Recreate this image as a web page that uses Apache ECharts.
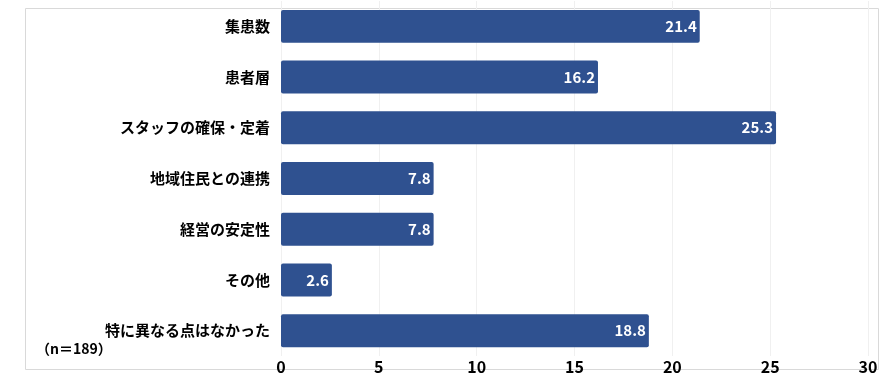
<!DOCTYPE html>
<html>
<head>
<meta charset="utf-8">
<script src="https://cdn.jsdelivr.net/npm/echarts@6/dist/echarts.min.js"></script>
<style>
  html, body { margin: 0; padding: 0; background: #fff; }
  #chart { width: 896px; height: 377px; }
</style>
</head>
<body>
<div id="chart"></div>
<script>
  // カテゴリ（上から順）
  var categories = ["集患数", "患者層", "スタッフの確保・定着", "地域住民との連携", "経営の安定性", "その他", "特に異なる点はなかった"];
  var values = [21.4, 16.2, 25.3, 7.8, 7.8, 2.6, 18.8];
  var sampleNote = "（n＝189）";

  var font = "'Noto Sans CJK JP', 'Noto Sans', sans-serif";
  var chart = echarts.init(document.getElementById("chart"));
  var option = {
    animation: false,
    grid: { left: 281, right: 28, top: 1, bottom: 21 },
    graphic: [
      {
        type: "rect",
        shape: { x: 25.5, y: 8.5, width: 853, height: 361 },
        style: { fill: "none", stroke: "#d9d9d9", lineWidth: 1 },
        z: -1
      },
      {
        type: "text",
        left: 36,
        top: 342,
        style: { text: sampleNote, font: "bold 14px " + font, fill: "#000" }
      }
    ],
    xAxis: {
      type: "value",
      min: 0,
      max: 30,
      interval: 5,
      axisLine: { show: false },
      axisTick: { show: false },
      splitLine: { lineStyle: { color: "#f0f0f0" } },
      axisLabel: { color: "#000", fontWeight: "bold", fontSize: 16, fontFamily: font, margin: 3 }
    },
    yAxis: {
      type: "category",
      inverse: true,
      data: categories,
      axisLine: { show: false },
      axisTick: { show: false },
      axisLabel: { color: "#000", fontWeight: "bold", fontSize: 15, fontFamily: font, margin: 11 }
    },
    series: [
      {
        type: "bar",
        data: values,
        barWidth: "65%",
        itemStyle: { color: "#2F5190", borderRadius: 2 },
        label: {
          show: true,
          position: "insideRight",
          color: "#fff",
          fontWeight: "bold",
          fontSize: 15,
          fontFamily: font,
          distance: 3
        }
      }
    ]
  };
  chart.setOption(option);
</script>
</body>
</html>
